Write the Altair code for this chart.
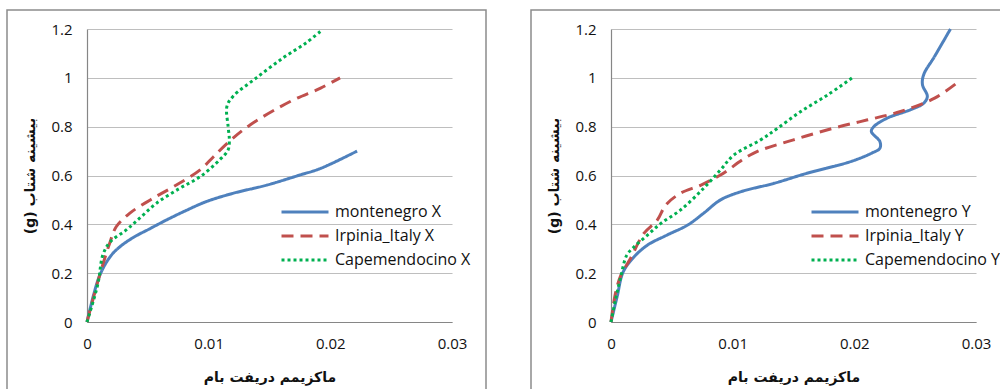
import altair as alt
import pandas as pd

# ---------------- data ----------------
# Left panel (X direction)
mont_x_drift = [0, 0.001, 0.0019, 0.0027, 0.0038, 0.0052, 0.0065, 0.0082, 0.0098, 0.012, 0.0148, 0.0175, 0.0192, 0.0222]
mont_x_acc = [0, 0.185, 0.267, 0.308, 0.346, 0.383, 0.417, 0.458, 0.493, 0.527, 0.561, 0.602, 0.629, 0.70]

irp_x_drift = [0, 0.001, 0.0019, 0.0024, 0.0035, 0.0052, 0.0071, 0.0093, 0.0104, 0.0117, 0.0134, 0.0167, 0.0192, 0.0208]
irp_x_acc = [0, 0.185, 0.328, 0.39, 0.445, 0.5, 0.554, 0.623, 0.677, 0.74, 0.807, 0.903, 0.958, 1.0]

cape_x_drift = [0, 0.0009, 0.0013, 0.0019, 0.0032, 0.0043, 0.0057, 0.0076, 0.0093, 0.0109, 0.0116, 0.0117,
                0.0116, 0.0115, 0.012, 0.0139, 0.0161, 0.018, 0.0193]
cape_x_acc = [0, 0.157, 0.274, 0.328, 0.376, 0.424, 0.486, 0.547, 0.595, 0.664, 0.705, 0.746,
              0.8, 0.883, 0.924, 0.999, 1.081, 1.143, 1.195]

# Right panel (Y direction)
mont_y_drift = [0, 0.0005, 0.001, 0.0019, 0.003, 0.0046, 0.0063, 0.0076, 0.009, 0.0107, 0.0134, 0.0161, 0.0197,
                0.0214, 0.0221, 0.0221, 0.0214, 0.0216, 0.0227, 0.0246, 0.0257, 0.026, 0.0256, 0.0257, 0.0266, 0.0279]
mont_y_acc = [0, 0.103, 0.205, 0.267, 0.315, 0.356, 0.397, 0.445, 0.5, 0.534, 0.568, 0.609, 0.657,
              0.691, 0.712, 0.739, 0.78, 0.8, 0.835, 0.869, 0.896, 0.924, 0.972, 1.013, 1.088, 1.2]

irp_y_drift = [0, 0.00036, 0.0008, 0.0016, 0.0027, 0.0038, 0.0045, 0.0057, 0.0074, 0.009, 0.0117, 0.015,
               0.0183, 0.0211, 0.0238, 0.0266, 0.0284]
irp_y_acc = [0, 0.116, 0.19, 0.26, 0.363, 0.417, 0.479, 0.527, 0.561, 0.602, 0.691, 0.746,
             0.794, 0.828, 0.862, 0.917, 0.978]

cape_y_drift = [0, 0.00036, 0.0008, 0.0013, 0.0019, 0.003, 0.0041, 0.0057, 0.0076, 0.009, 0.0101, 0.0123,
                0.0137, 0.0156, 0.0178, 0.0198]
cape_y_acc = [0, 0.089, 0.185, 0.274, 0.308, 0.356, 0.404, 0.458, 0.547, 0.623, 0.684, 0.746,
              0.794, 0.862, 0.93, 0.999]

series_base = ["montenegro", "Irpinia_Italy", "Capemendocino"]
x_ticks = [0, 0.01, 0.02, 0.03]
y_ticks = [0, 0.2, 0.4, 0.6, 0.8, 1.0, 1.2]
x_title = "ماکزیمم دریفت بام"
y_title = "(g) بیشینه شتاب"

colors = ["#4F81BD", "#C0504D", "#00B050"]
dashes = [[1, 0], [12, 7], [3, 3]]

W, H = 365, 293
LABEL_FONT = "Open Sans"
TITLE_FONT = "DejaVu Sans"


def panel(suffix, drifts, accs, legend_x, frame_x2):
    names = [f"{b} {suffix}" for b in series_base]
    rows = []
    for name, xs, ys in zip(names, drifts, accs):
        for i, (a, b) in enumerate(zip(xs, ys)):
            rows.append({"series": name, "drift": a, "acc": b, "idx": i})
    df = pd.DataFrame(rows)

    frame = alt.Chart(pd.DataFrame({"k": [0]})).mark_rect(
        fillOpacity=0, stroke="#8C8C8C", strokeWidth=1.5
    ).encode(
        x=alt.value(-80), x2=alt.value(frame_x2),
        y=alt.value(-19), y2=alt.value(420),
    )

    leg = alt.Legend(
        orient="none", legendX=legend_x, legendY=171, title=None,
        symbolType="stroke", symbolSize=2209, symbolStrokeWidth=3,
        labelFont=LABEL_FONT, labelFontSize=16, labelColor="#111111",
        clipHeight=24, rowPadding=0, labelOffset=5, padding=0,
    )

    lines = alt.Chart(df).mark_line(
        interpolate="catmull-rom", strokeWidth=3, clip=False
    ).encode(
        x=alt.X("drift:Q",
                scale=alt.Scale(domain=[0, 0.03], nice=False, zero=True),
                axis=alt.Axis(values=x_ticks, format=".2~f", grid=False, ticks=False,
                              title=x_title, titleY=55, titleBaseline="middle",
                              labelPadding=14, labelFlush=False)),
        y=alt.Y("acc:Q",
                scale=alt.Scale(domain=[0, 1.2], nice=False),
                axis=alt.Axis(values=y_ticks, format=".1~f", grid=True, ticks=False,
                              title=y_title, titleX=-57, titleY=H / 2, titleAngle=-90,
                              titleBaseline="middle", labelPadding=15, labelFlush=False)),
        color=alt.Color("series:N", scale=alt.Scale(domain=names, range=colors), legend=leg),
        strokeDash=alt.StrokeDash("series:N", scale=alt.Scale(domain=names, range=dashes), legend=leg),
        order="idx:Q",
    )
    return alt.layer(frame, lines).properties(width=W, height=H)


left = panel("X", [mont_x_drift, irp_x_drift, cape_x_drift], [mont_x_acc, irp_x_acc, cape_x_acc], 193, 399)
right = panel("Y", [mont_y_drift, irp_y_drift, cape_y_drift], [mont_y_acc, irp_y_acc, cape_y_acc], 199, 420)

chart = alt.hconcat(left, right, spacing=159, bounds="flush").resolve_scale(
    color="independent", strokeDash="independent", x="independent", y="independent"
).resolve_legend(
    color="independent", strokeDash="independent"
).properties(
    padding={"left": 87, "top": 29, "right": 913, "bottom": 360},
    autosize=alt.AutoSizeParams(type="none"),
    background="white",
).configure_view(
    stroke=None
).configure_axis(
    labelFont=LABEL_FONT, labelFontSize=15, labelColor="#111111",
    titleFont=TITLE_FONT, titleFontSize=14, titleFontWeight="bold", titleColor="#111111",
    domainColor="#868686", domainWidth=1.2, gridColor="#BEBEBE", gridWidth=1.2,
)

chart.save("out.html", embed_options={"renderer": "svg", "actions": False})
